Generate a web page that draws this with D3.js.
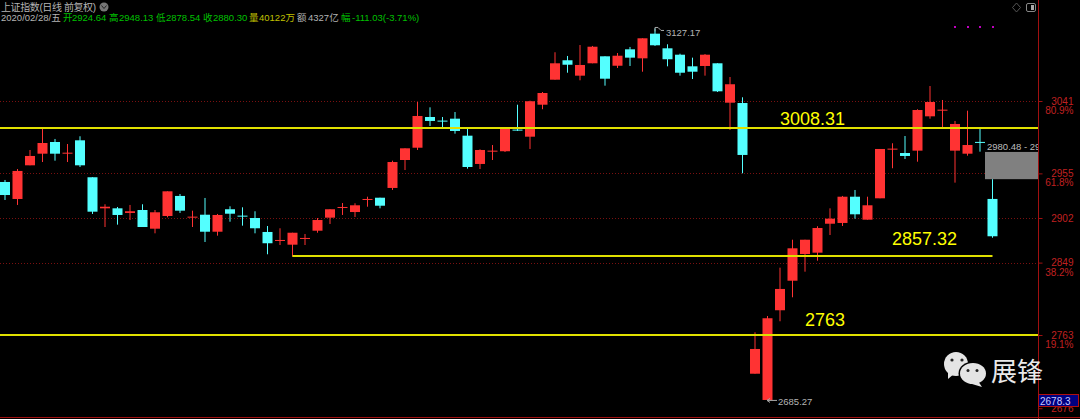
<!DOCTYPE html>
<html lang="en">
<head>
    <meta charset="UTF-8">
    <title>上证指数 日线</title>
    <script src="https://d3js.org/d3.v7.min.js"></script>
    <style>
        html, body { margin: 0; padding: 0; background: #000; overflow: hidden; }
        svg { display: block; }
        text { font-family: "Liberation Sans", Arial, "Noto Sans CJK SC", sans-serif; }
    </style>
</head>
<body>
    <script>
        // daily candles, left to right
        const opens = [2944.8,2924.6,2964.6,2978.4,2992.3,2978.8,2994.3,2950.4,2913.5,2913.5,2908,2911.5,2889.3,2904.4,2928.2,2902.8,2905.9,2885.7,2912.4,2904.8,
            2902,2885.4,2875.1,2870.3,2877.5,2886.9,2902.4,2914.3,2909.1,2923.8,2926.1,2937.7,2970.9,2985.5,3022,3017.7,3020,2999.8,2966.2,2981.2,
            2981.3,3007,2998.6,3036.6,3066.3,3089.4,3071.1,3085.8,3094.1,3082.9,3102.4,3091.7,3121,3103.6,3096,3082.2,3082.6,3085.8,3039,3038.6,
            2717,2685.8,2792.4,2827.5,2859.2,2860.8,2895.2,2896.1,2927.3,2900,2925.4,2983.6,2979.2,2982,3022.8,3029.9,2982,2978.4,2992.4,2924.64];
        const closes = [2929.3,2957.9,2975.7,2991.1,2978.4,2979.6,2964.6,2909.5,2915.4,2905.6,2910,2891.3,2908.8,2933.7,2910.7,2903.6,2885.7,2905.6,2907.1,2904,
            2889.8,2872,2875.9,2884.5,2878.3,2899.6,2912.4,2915.1,2917.1,2924.6,2916.6,2968.5,2984.8,3023.2,3017.3,3016.9,3005.4,2962.6,2982.8,2982,
            3008.6,3006.2,3040.7,3050.5,3085.8,3084.1,3083.8,3105.5,3067.5,3094.8,3092.5,3115.5,3107.2,3090.6,3074.6,3075.8,3096,3052.5,3060.9,2976.9,
            2746.4,2782.9,2817.7,2866,2876.2,2890.1,2901.2,2927.3,2906.4,2917.1,2984,2984.4,2975.7,3030.3,3039.8,3030.7,3013.7,2988.7,2991.6,2880.30];
        const highs = [2947.2,2960.2,2982.8,3008.6,2995.9,2989.9,2999.1,2950.4,2918.3,2915.1,2917.5,2918.3,2911.5,2933.7,2930.5,2910.7,2925.8,2906.8,2915.9,2914.7,
            2910,2892.5,2889.8,2884.5,2883,2902,2912.4,2919.8,2919.5,2927.3,2926.1,2970.1,2984.8,3039.8,3033.5,3022,3027.9,3009.3,2983.6,2988.7,
            3010.1,3036.6,3041.4,3051.7,3098.9,3094.5,3107.5,3106.4,3094.1,3098,3105.2,3115.5,3127.17,3108.4,3097.2,3092.5,3096.8,3085.8,3069.5,3045.4,
            2766.2,2785.6,2843,2876.2,2876.2,2892.2,2913.5,2928.2,2935.3,2927.3,2984,2990.8,2999.4,3031.2,3058.8,3042.2,3017.3,3029.5,3009.3,2948.13];
        const lows = [2923.4,2917.5,2964.6,2968.5,2970.1,2968.5,2962.6,2906.8,2891.3,2894.1,2899.6,2891.3,2883.8,2902.8,2908,2891.3,2873.5,2881,2897.6,2892.9,
            2883.8,2858.9,2869.9,2856,2869.9,2884.5,2894.9,2905.6,2903.2,2915.4,2913.5,2935.3,2959,2982.8,3011.3,3009.3,3002.2,2960.6,2960.2,2970.9,
            2980.4,3005.4,2984,3031.2,3066.3,3074.6,3065.6,3085.8,3059.2,3080.2,3082.6,3075.8,3106.4,3082.2,3071.1,3067.1,3071.1,3051.7,3006.6,2955.1,
            2717,2685.27,2779.3,2807.8,2838.2,2851.3,2881.8,2892.5,2901.2,2900,2925.4,2961.1,2972.1,2968.9,3020,3009.3,2944,2976,2980.8,2878.54];

        const gridPrices = [3041, 2955, 2902, 2849];
        const tickPrices = [3041, 2955, 2902, 2849, 2763, 2676];
        const fibPrices = [3041, 2955, 2849, 2763];
        const fibLabels = ["80.9%", "61.8%", "38.2%", "19.1%"];
        const markerDots = [76, 77, 78, 79];
        const currentPrice = 2678.3;
        const zoneTop = 2980.48;
        const zoneBottom = 2948.13;

        const w = 1080;
        const h = 419;
        const axisX = 1038.5;

        const xScale = d3.scaleLinear().domain([0, opens.length - 1]).range([5, 992.5]);
        const yScale = d3.scaleLinear().domain([2763, 3041]).range([335, 101]);

        const upColor = "#ff3333";
        const downColor = "#54ffff";

        const svg = d3.select("body").append("svg")
            .attr("width", w)
            .attr("height", h)
            .style("background", "#000");

        svg.append("defs").append("clipPath").attr("id", "plot")
            .append("rect").attr("x", 0).attr("y", 0).attr("width", axisX).attr("height", h);

        // dotted price grid
        svg.selectAll(".grid").data(gridPrices).enter().append("line")
            .attr("class", "grid")
            .attr("x1", 0).attr("x2", axisX)
            .attr("y1", d => Math.round(yScale(d)) + 0.5).attr("y2", d => Math.round(yScale(d)) + 0.5)
            .attr("stroke", "#7a1010").attr("stroke-dasharray", "1,2");

        const candles = svg.selectAll(".candle").data(opens).enter().append("g").attr("class", "candle");
        const color = i => closes[i] >= opens[i] ? upColor : downColor;

        candles.append("line")
            .attr("x1", (d, i) => xScale(i)).attr("x2", (d, i) => xScale(i))
            .attr("y1", (d, i) => yScale(highs[i])).attr("y2", (d, i) => yScale(lows[i]))
            .attr("stroke", (d, i) => color(i));

        candles.append("rect")
            .attr("x", (d, i) => xScale(i) - 5)
            .attr("width", 10)
            .attr("y", (d, i) => yScale(Math.max(opens[i], closes[i])))
            .attr("height", (d, i) => Math.max(1, Math.abs(yScale(opens[i]) - yScale(closes[i]))))
            .attr("fill", (d, i) => color(i));

        // last candle's gap zone
        svg.append("rect")
            .attr("x", xScale(79) - 7.5).attr("width", axisX - xScale(79) + 7.5)
            .attr("y", yScale(zoneTop)).attr("height", yScale(zoneBottom) - yScale(zoneTop))
            .attr("fill", "#808080");
        svg.append("text")
            .attr("clip-path", "url(#plot)")
            .attr("x", 987).attr("y", 149.5)
            .attr("font-size", 9.5).attr("fill", "#bdbdbd")
            .text(zoneTop + " - " + zoneBottom);

        // support / resistance lines
        const levels = [
            { price: 3008.31, from: 0, to: axisX, label: "3008.31", lx: 780, ly: 125 },
            { price: 2857.32, from: xScale(23), to: xScale(79), label: "2857.32", lx: 892, ly: 245 },
            { price: 2763, from: 0, to: axisX, label: "2763", lx: 805, ly: 326 }
        ];
        svg.selectAll(".level").data(levels).enter().append("line")
            .attr("x1", d => d.from).attr("x2", d => d.to)
            .attr("y1", d => Math.round(yScale(d.price) - 0.1)).attr("y2", d => Math.round(yScale(d.price) - 0.1))
            .attr("stroke", "#e0e000").attr("stroke-width", 2);
        svg.selectAll(".levelText").data(levels).enter().append("text")
            .attr("x", d => d.lx).attr("y", d => d.ly)
            .attr("font-size", 18).attr("fill", "#ffff00")
            .text(d => d.label);

        // marker dots above the last candles
        svg.selectAll(".dot").data(markerDots).enter().append("rect")
            .attr("x", d => Math.round(xScale(d)) - 1).attr("y", 26)
            .attr("width", 2).attr("height", 2).attr("fill", "#c000c0");

        // high / low notes
        svg.append("path")
            .attr("d", "M" + xScale(52) + " " + (yScale(3127.17) - 1) + "v4M" + xScale(52) + " " + (yScale(3127.17) - 1) + "l3 0l3 3l3 0")
            .attr("fill", "none").attr("stroke", "#a8a8a8");
        svg.append("text").attr("x", 666).attr("y", 36)
            .attr("font-size", 9.5).attr("fill", "#b4b4b4").text("3127.17");
        svg.append("path")
            .attr("d", "M767 " + yScale(2685.27) + "h10M767 " + yScale(2685.27) + "l3 -2M767 " + yScale(2685.27) + "l3 2")
            .attr("fill", "none").attr("stroke", "#a8a8a8");
        svg.append("text").attr("x", 778).attr("y", 405)
            .attr("font-size", 9.5).attr("fill", "#b4b4b4").text("2685.27");

        // price axis on the right
        const yAxis = d3.axisRight(yScale).tickValues(tickPrices).tickSize(4).tickFormat(d3.format("d"));
        const axisG = svg.append("g")
            .attr("transform", "translate(" + axisX + ",0)")
            .call(yAxis);
        axisG.select(".domain").remove();
        axisG.selectAll("line").attr("stroke", "#a01010");
        axisG.selectAll("text")
            .attr("x", 35).attr("text-anchor", "end")
            .attr("font-size", 10).attr("font-family", "Liberation Sans")
            .attr("fill", "#c02020");

        svg.selectAll(".fib").data(fibPrices).enter().append("text")
            .attr("x", 1073.5).attr("y", d => yScale(d) + 13)
            .attr("text-anchor", "end").attr("font-size", 10)
            .attr("fill", "#c02020")
            .text((d, i) => fibLabels[i]);

        svg.append("line").attr("x1", axisX).attr("x2", axisX).attr("y1", 0).attr("y2", h).attr("stroke", "#a01010");
        svg.append("line").attr("x1", 0).attr("x2", w).attr("y1", 417.5).attr("y2", 417.5).attr("stroke", "#a01010");

        // current price box
        svg.append("rect").attr("x", axisX).attr("y", 394.5).attr("width", 40).attr("height", 12)
            .attr("fill", "#000080").attr("stroke", "#b01010");
        svg.append("text").attr("x", 1040).attr("y", 404.5)
            .attr("font-size", 10).attr("fill", "#c8c8ff").text(currentPrice);

        // header text
        const headerTexts = ["2020/02/28/五", "开", "2924.64", "高", "2948.13", "低", "2878.54", "收", "2880.30", "量", "40122万", "额", "4327亿", "幅", "-111.03(-3.71%)"];
        const headerX = [1, 63, 72, 109, 119, 156, 166, 203, 213, 249, 259, 297, 308, 341, 352];
        const headerColors = ["#b4b4b4", "#00c000", "#00c000", "#00c000", "#00c000", "#00c000", "#00c000", "#00c000", "#00c000", "#c0c000", "#c0c000", "#b4b4b4", "#b4b4b4", "#00c000", "#00c000"];
        svg.selectAll(".head").data(headerTexts).enter().append("text")
            .attr("x", (d, i) => headerX[i]).attr("y", 21)
            .attr("font-size", 9.5).attr("fill", (d, i) => headerColors[i])
            .text(d => d);
        svg.append("text").attr("x", 1).attr("y", 11)
            .attr("font-size", 10).attr("letter-spacing", -0.4).attr("fill", "#b4b4b4")
            .text("上证指数(日线 前复权)");
        svg.append("circle").attr("cx", 104).attr("cy", 7).attr("r", 4.5).attr("fill", "#777");
        svg.append("path").attr("d", "M101.5 5.5L104 8.5L106.5 5.5").attr("fill", "none").attr("stroke", "#222");

        // corner icons
        svg.append("path").attr("d", "M1016.5 3L1020.5 7.5L1016.5 12L1012.5 7.5Z").attr("fill", "none").attr("stroke", "#555");
        svg.append("rect").attr("x", 1026.5).attr("y", 3.5).attr("width", 9).attr("height", 8).attr("rx", 1.5)
            .attr("fill", "none").attr("stroke", "#888");
        svg.append("rect").attr("x", 1031).attr("y", 5).attr("width", 3).attr("height", 5).attr("fill", "#aaa");

        // watermark
        const wm = svg.append("g");
        wm.append("path").attr("d", "M948 371L948 379L955 373Z").attr("fill", "#e4e4e4");
        wm.append("ellipse").attr("cx", 956).attr("cy", 364).attr("rx", 12).attr("ry", 12).attr("fill", "#e4e4e4");
        wm.append("ellipse").attr("cx", 973).attr("cy", 373.5).attr("rx", 14.5).attr("ry", 12).attr("fill", "#000");
        wm.append("path").attr("d", "M978 381L982 387L972 384Z").attr("fill", "#e4e4e4");
        wm.append("ellipse").attr("cx", 973).attr("cy", 373.5).attr("rx", 13).attr("ry", 10.5).attr("fill", "#e4e4e4");
        wm.append("circle").attr("cx", 952).attr("cy", 360).attr("r", 1.6).attr("fill", "#222");
        wm.append("circle").attr("cx", 962).attr("cy", 360).attr("r", 1.6).attr("fill", "#222");
        wm.append("circle").attr("cx", 968).attr("cy", 370.5).attr("r", 1.5).attr("fill", "#222");
        wm.append("circle").attr("cx", 977).attr("cy", 370.5).attr("r", 1.5).attr("fill", "#222");
        wm.append("text").attr("x", 991).attr("y", 381)
            .attr("font-size", 26).attr("fill", "#eaeaea")
            .style("font-family", "'Noto Sans CJK SC'")
            .text("展锋");
    </script>
</body>
</html>
